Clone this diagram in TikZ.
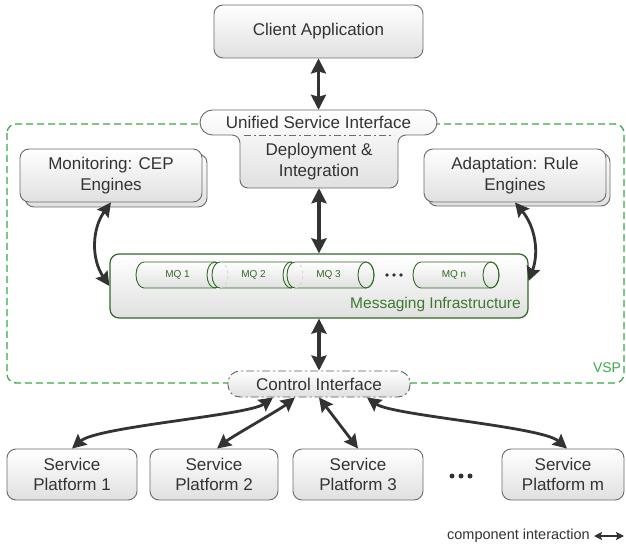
\documentclass[tikz,border=0pt]{standalone}
\usepackage{fontspec}
\setmainfont{Liberation Sans}
\usetikzlibrary{arrows.meta}
\definecolor{ink}{HTML}{333333}
\definecolor{edge}{HTML}{6B6B6B}
\definecolor{boxlow}{HTML}{E0E0E0}
\definecolor{mqgreen}{HTML}{2E6B22}
\definecolor{mitext}{HTML}{3C7A2E}
\definecolor{vspgreen}{HTML}{3BAA48}

% horizontal message-queue cylinder: #1 left cap centre, #2 right cap centre,
% #3 label, #4 node name, #5 extra style for the hidden half of the left cap
\newcommand\mqcyl[5]{%
  \path[draw=mqgreen, line width=0.9pt, top color=white, bottom color=boxlow]
    (#2,262) -- (#1,262)
    arc[start angle=-90, end angle=-270, x radius=8, y radius=13]
    -- (#2,288)
    arc[start angle=90, end angle=-90, x radius=8, y radius=13] -- cycle;
  \draw[#5] (#1,262) arc[start angle=-90, end angle=90, x radius=8, y radius=13];
  \draw[mqgreen, line width=0.9pt] (#2,275) ellipse[x radius=8, y radius=13];
  \node[font=\fontsize{10}{12}\selectfont, text=mqgreen, minimum width=70pt,
        minimum height=26pt, inner sep=0pt] (#4) at ({(#1+#2)/2-2},275) {#3};
}

\begin{document}
\begin{tikzpicture}[x=1pt, y=-1pt,
  box/.style={draw=edge, line width=0.9pt, rounded corners=9pt,
    top color=white, bottom color=boxlow, text=ink,
    font=\fontsize{17}{20.5}\selectfont, align=center, inner sep=0pt},
  backbox/.style={draw=edge, line width=0.9pt, rounded corners=9pt,
    top color=white, bottom color=boxlow, inner sep=0pt},
  tip/.tip={Stealth[length=14pt, width=14pt, inset=2pt]},
  bigtip/.tip={Stealth[length=15pt, width=15pt, inset=2pt]},
  smalltip/.tip={Stealth[length=8pt, width=8pt, inset=1.5pt]},
  arr/.style={draw=ink, line width=3.6pt, bigtip-bigtip},
  arrthin/.style={draw=ink, line width=2.8pt, tip-tip},
  arrsmall/.style={draw=ink, line width=1.8pt, smalltip-smalltip},
  sep/.style={draw=edge, line width=0.8pt, dash pattern=on 7pt off 3pt on 2pt off 3pt},
]
% canvas
\fill[white] (0,0) rectangle (626,553);
\useasboundingbox (0,0) rectangle (626,553);

% VSP boundary
\draw[vspgreen, line width=1.3pt, dash pattern=on 7pt off 4pt, rounded corners=9pt]
  (7,124) rectangle (624,383);
\node[text=vspgreen, font=\fontsize{14}{16}\selectfont] (vsp) at (607,368) {VSP};

% client
\node[box, minimum width=209pt, minimum height=53pt] (client) at (318.5,31.5) {Client Application};

% unified service interface joined with the deployment block
\path[draw=edge, line width=0.9pt, top color=white, bottom color=boxlow]
  (212.5,110) -- (424.5,110)
  arc[start angle=-90, end angle=90, radius=12.5]
  -- (406,135) arc[start angle=-90, end angle=-180, radius=8]
  -- (398,180) arc[start angle=0, end angle=90, radius=8]
  -- (248,188) arc[start angle=90, end angle=180, radius=8]
  -- (240,143) arc[start angle=0, end angle=-90, radius=8]
  -- (212.5,135) arc[start angle=90, end angle=270, radius=12.5] -- cycle;
\draw[sep] (244,135) -- (394,135);
\node[text=ink, font=\fontsize{17}{20.5}\selectfont, minimum width=237pt,
      minimum height=25pt, inner sep=0pt] (usi) at (318.5,122.5) {Unified Service Interface};
\node[text=ink, font=\fontsize{17}{20.5}\selectfont, align=center, minimum width=158pt,
      minimum height=53pt, inner sep=0pt] (deploy) at (319,161.5) {Deployment \&\\Integration};

% monitoring and adaptation engines (stacked)
\node[backbox, minimum width=182pt, minimum height=53pt] (monback) at (116,180.5) {};
\node[box, minimum width=182pt, minimum height=53pt] (mon) at (111,175.5) {Monitoring: CEP\\Engines};
\node[backbox, minimum width=182pt, minimum height=53pt] (adaback) at (519,179.5) {};
\node[box, minimum width=182pt, minimum height=53pt] (ada) at (515,175.5) {Adaptation: Rule\\Engines};

% messaging infrastructure
\node[box, draw=mqgreen, line width=1.2pt, minimum width=418pt, minimum height=64pt] (mi) at (319,286) {};
\node[anchor=east, text=mitext, font=\fontsize{15.5}{18}\selectfont, inner sep=0pt] (milabel) at (521,304) {Messaging Infrastructure};
\mqcyl{144}{215}{MQ 1}{mq1}{draw=none}
\mqcyl{220}{291}{MQ 2}{mq2}{draw=gray!35, line width=0.7pt, dashed}
\mqcyl{295}{366}{MQ 3}{mq3}{draw=gray!35, line width=0.7pt, dashed}
\mqcyl{421}{491}{MQ n}{mqn}{draw=none}
\fill[ink] (387,275) circle[radius=1.9] (394,275) circle[radius=1.9] (401,275) circle[radius=1.9];

% control interface
\node[box, draw=gray!75!black, dash pattern=on 8pt off 3pt on 2pt off 3pt, rounded corners=12pt,
      minimum width=182pt, minimum height=26pt] (ci) at (319,384) {Control Interface};

% service platforms
\node[box, minimum width=130pt, minimum height=51pt] (sp1) at (72,474.5) {Service\\Platform 1};
\node[box, minimum width=128pt, minimum height=51pt] (sp2) at (214,474.5) {Service\\Platform 2};
\node[box, minimum width=130pt, minimum height=51pt] (sp3) at (358,474.5) {Service\\Platform 3};
\node[box, minimum width=122pt, minimum height=51pt] (spm) at (563,474.5) {Service\\Platform m};
\fill[ink] (452,476) circle[radius=2.5] (461,476) circle[radius=2.5] (470,476) circle[radius=2.5];

% interactions
\draw[arr] (client.south) -- (usi.north);
\draw[arr] (deploy.south) -- (mi.north);
\draw[arr] (mi.south) -- (ci.north);
\draw[arrthin] (mon.south) to[bend right=35] (mi.west);
\draw[arrthin] (ada.south) to[bend left=30] ([yshift=5pt]mi.east);
\draw[arrthin] ([xshift=-46pt]ci.south) .. controls +(-25,18) and +(25,-22) .. (sp1.north);
\draw[arrthin] ([xshift=-24pt]ci.south) .. controls +(-15,12) and +(15,-12) .. ([xshift=3pt]sp2.north);
\draw[arrthin] (ci.south) -- (sp3.north);
\draw[arrthin] ([xshift=48pt]ci.south) .. controls +(25,18) and +(-25,-22) .. ([xshift=4pt]spm.north);

% legend
\node[anchor=east, text=ink, font=\fontsize{14.5}{16}\selectfont, inner sep=0pt] (legend) at (590,536) {component interaction};
\coordinate (lega) at (594,536);
\coordinate (legb) at (624,536);
\draw[arrsmall] (lega) -- (legb);
\end{tikzpicture}
\end{document}
